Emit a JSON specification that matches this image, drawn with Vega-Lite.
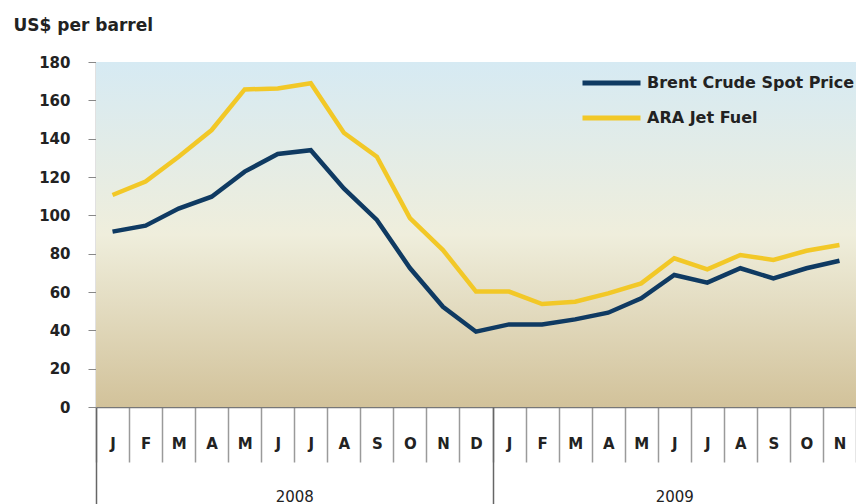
{
  "$schema": "https://vega.github.io/schema/vega-lite/v6.json",
  "width": 760,
  "height": 345,
  "autosize": {"type": "none"},
  "padding": {"left": 96, "top": 62, "right": 0, "bottom": 97},
  "background": "white",
  "config": {"view": {"stroke": null}, "font": "DejaVu Sans"},
  "layer": [
    {
      "data": {"values": [{}]},
      "mark": {
        "type": "rect",
        "fill": {
          "gradient": "linear",
          "x1": 0, "y1": 0, "x2": 0, "y2": 1,
          "stops": [
            {"offset": 0, "color": "#d6eaf3"},
            {"offset": 0.5, "color": "#efeedc"},
            {"offset": 1, "color": "#d2c29a"}
          ]
        }
      },
      "encoding": {}
    },
    {
      "data": {
        "values": [
          {"date": "2008-01-15", "series": "Brent Crude Spot Price", "price": 91.5},
          {"date": "2008-02-15", "series": "Brent Crude Spot Price", "price": 94.6},
          {"date": "2008-03-15", "series": "Brent Crude Spot Price", "price": 103.5},
          {"date": "2008-04-15", "series": "Brent Crude Spot Price", "price": 109.7},
          {"date": "2008-05-15", "series": "Brent Crude Spot Price", "price": 122.8},
          {"date": "2008-06-15", "series": "Brent Crude Spot Price", "price": 132},
          {"date": "2008-07-15", "series": "Brent Crude Spot Price", "price": 134},
          {"date": "2008-08-15", "series": "Brent Crude Spot Price", "price": 114},
          {"date": "2008-09-15", "series": "Brent Crude Spot Price", "price": 97.6},
          {"date": "2008-10-15", "series": "Brent Crude Spot Price", "price": 72.5},
          {"date": "2008-11-15", "series": "Brent Crude Spot Price", "price": 52.3},
          {"date": "2008-12-15", "series": "Brent Crude Spot Price", "price": 39.3},
          {"date": "2009-01-15", "series": "Brent Crude Spot Price", "price": 43.1},
          {"date": "2009-02-15", "series": "Brent Crude Spot Price", "price": 43},
          {"date": "2009-03-15", "series": "Brent Crude Spot Price", "price": 45.7},
          {"date": "2009-04-15", "series": "Brent Crude Spot Price", "price": 49.2},
          {"date": "2009-05-15", "series": "Brent Crude Spot Price", "price": 56.7},
          {"date": "2009-06-15", "series": "Brent Crude Spot Price", "price": 68.9},
          {"date": "2009-07-15", "series": "Brent Crude Spot Price", "price": 64.9},
          {"date": "2009-08-15", "series": "Brent Crude Spot Price", "price": 72.4},
          {"date": "2009-09-15", "series": "Brent Crude Spot Price", "price": 67.1},
          {"date": "2009-10-15", "series": "Brent Crude Spot Price", "price": 72.4},
          {"date": "2009-11-15", "series": "Brent Crude Spot Price", "price": 76.3},
          {"date": "2008-01-15", "series": "ARA Jet Fuel", "price": 110.6},
          {"date": "2008-02-15", "series": "ARA Jet Fuel", "price": 117.6},
          {"date": "2008-03-15", "series": "ARA Jet Fuel", "price": 130.6},
          {"date": "2008-04-15", "series": "ARA Jet Fuel", "price": 144.5},
          {"date": "2008-05-15", "series": "ARA Jet Fuel", "price": 165.7},
          {"date": "2008-06-15", "series": "ARA Jet Fuel", "price": 166.2},
          {"date": "2008-07-15", "series": "ARA Jet Fuel", "price": 168.9},
          {"date": "2008-08-15", "series": "ARA Jet Fuel", "price": 143.1},
          {"date": "2008-09-15", "series": "ARA Jet Fuel", "price": 130.6},
          {"date": "2008-10-15", "series": "ARA Jet Fuel", "price": 98.6},
          {"date": "2008-11-15", "series": "ARA Jet Fuel", "price": 81.9},
          {"date": "2008-12-15", "series": "ARA Jet Fuel", "price": 60.2},
          {"date": "2009-01-15", "series": "ARA Jet Fuel", "price": 60.2},
          {"date": "2009-02-15", "series": "ARA Jet Fuel", "price": 53.7},
          {"date": "2009-03-15", "series": "ARA Jet Fuel", "price": 54.9},
          {"date": "2009-04-15", "series": "ARA Jet Fuel", "price": 59.3},
          {"date": "2009-05-15", "series": "ARA Jet Fuel", "price": 64.5},
          {"date": "2009-06-15", "series": "ARA Jet Fuel", "price": 77.6},
          {"date": "2009-07-15", "series": "ARA Jet Fuel", "price": 71.8},
          {"date": "2009-08-15", "series": "ARA Jet Fuel", "price": 79.3},
          {"date": "2009-09-15", "series": "ARA Jet Fuel", "price": 76.7},
          {"date": "2009-10-15", "series": "ARA Jet Fuel", "price": 81.5},
          {"date": "2009-11-15", "series": "ARA Jet Fuel", "price": 84.5}
        ]
      },
      "mark": {"type": "line", "strokeWidth": 4.5},
      "encoding": {
        "x": {
          "field": "date",
          "timeUnit": "yearmonth",
          "type": "ordinal",
          "scale": {"type": "band", "paddingInner": 0, "paddingOuter": 0},
          "axis": {
            "orient": "bottom",
            "title": null,
            "labelExpr": "substring(datum.label, 0, 1)",
            "labelAngle": 0,
            "labelFontSize": 15,
            "labelFontWeight": "bold",
            "labelColor": "#222",
            "labelBaseline": "middle",
            "labelPadding": -19,
            "tickBand": "extent",
            "tickSize": 55,
            "tickColor": "#9a9a9a",
            "tickWidth": 1.5,
            "domainColor": "#777",
            "domainWidth": 1.5,
            "grid": false
          }
        },
        "y": {
          "field": "price",
          "type": "quantitative",
          "scale": {"domain": [0, 180], "nice": false},
          "axis": {
            "values": [0, 20, 40, 60, 80, 100, 120, 140, 160, 180],
            "grid": false,
            "tickSize": 8,
            "tickColor": "#888",
            "domainColor": "#888",
            "domainWidth": 1.5,
            "labelPadding": 18,
            "labelFontSize": 15,
            "labelFontWeight": "bold",
            "labelColor": "#222",
            "title": "US$ per barrel",
            "titleAngle": 0,
            "titleAlign": "left",
            "titleBaseline": "middle",
            "titleX": -83,
            "titleY": -37,
            "titleFontSize": 17,
            "titleFontWeight": "bold",
            "titleColor": "#222"
          }
        },
        "color": {
          "field": "series",
          "type": "nominal",
          "scale": {
            "domain": ["Brent Crude Spot Price", "ARA Jet Fuel"],
            "range": ["#0f3a62", "#f2c827"]
          },
          "legend": {
            "title": null,
            "orient": "none",
            "legendX": 484,
            "legendY": 4,
            "padding": 0,
            "symbolType": "M-1,0H3",
            "symbolSize": 841,
            "symbolStrokeWidth": 5,
            "labelOffset": 33,
            "labelFontSize": 16,
            "labelFontWeight": "bold",
            "labelColor": "#222",
            "labelLimit": 400,
            "rowPadding": 8
          }
        }
      }
    },
    {
      "data": {"values": [{"p": 0}, {"p": 23}]},
      "mark": {"type": "rule", "opacity": 0},
      "encoding": {
        "x": {
          "field": "p",
          "type": "quantitative",
          "scale": {"domain": [0, 23], "nice": false, "zero": false},
          "axis": {
            "orient": "bottom",
            "title": null,
            "values": [6, 17.5],
            "labelExpr": "datum.value < 12 ? '2008' : '2009'",
            "ticks": false,
            "tickSize": 0,
            "domain": false,
            "grid": false,
            "labelPadding": 89,
            "labelBaseline": "middle",
            "labelFontSize": 15,
            "labelColor": "#222"
          }
        }
      }
    },
    {
      "data": {"values": [{"p": 0}, {"p": 23}]},
      "mark": {"type": "rule", "opacity": 0},
      "encoding": {
        "x": {
          "field": "p",
          "type": "quantitative",
          "scale": {"domain": [0, 23], "nice": false, "zero": false},
          "axis": {
            "orient": "bottom",
            "title": null,
            "values": [0, 12],
            "labels": false,
            "tickSize": 97,
            "tickColor": "#666",
            "tickWidth": 1.5,
            "domain": false,
            "grid": false
          }
        }
      }
    }
  ],
  "resolve": {"scale": {"x": "independent"}, "axis": {"x": "independent"}}
}
